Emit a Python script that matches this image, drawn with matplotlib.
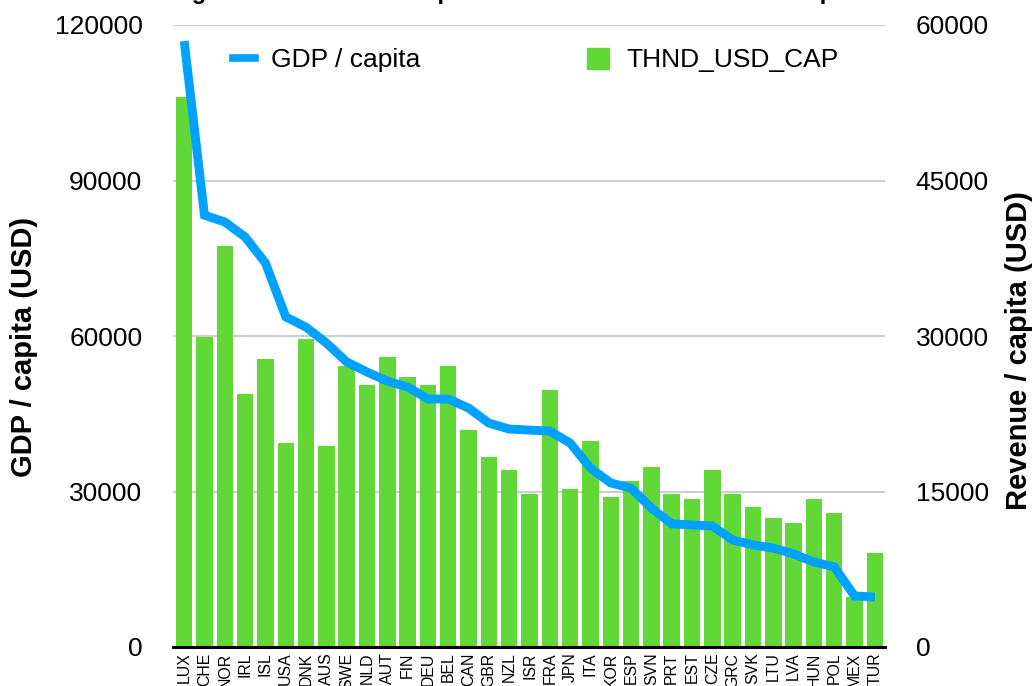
import matplotlib
matplotlib.use("Agg")
import matplotlib.pyplot as plt
from matplotlib.lines import Line2D
from matplotlib.patches import Patch
import numpy as np

plt.rcParams["font.family"] = ["Liberation Sans", "DejaVu Sans"]

countries = ["LUX", "CHE", "NOR", "IRL", "ISL", "USA", "DNK", "AUS", "SWE", "NLD",
             "AUT", "FIN", "DEU", "BEL", "CAN", "GBR", "NZL", "ISR", "FRA", "JPN",
             "ITA", "KOR", "ESP", "SVN", "PRT", "EST", "CZE", "GRC", "SVK", "LTU",
             "LVA", "HUN", "POL", "MEX", "TUR"]
gdp_per_capita = [116900, 83300, 82000, 79100, 74100, 63700, 61700, 58650, 55000, 53050,
                  51300, 50150, 47850, 47850, 46100, 43200, 42050, 41850, 41650, 39350,
                  34500, 31650, 30650, 26800, 23750, 23550, 23350, 20650, 19700, 19100,
                  17950, 16400, 15450, 9850, 9650]
revenue_per_capita = [53050, 29900, 38700, 24400, 27800, 19700, 29700, 19400, 27100, 25250,
                      27950, 26050, 25250, 27100, 20950, 18350, 17050, 14750, 24800, 15250,
                      19850, 14450, 16000, 17350, 14750, 14300, 17050, 14750, 13500, 12450,
                      11950, 14300, 12950, 4800, 9050]

line_color = "#00A2FF"
bar_color = "#61D836"

fig = plt.figure(figsize=(10.36, 6.86), dpi=100)
ax = fig.add_axes([173 / 1036, 39 / 686, 712 / 1036, 622 / 686])
ax2 = ax.twinx()

x = np.arange(len(countries))

# bars on the right axis, gridlines follow its ticks (same positions as the left ones)
ax2.bar(x, revenue_per_capita, width=0.81, color=bar_color, zorder=2)
ax2.set_ylim(0, 60000)
ax2.set_yticks([0, 15000, 30000, 45000, 60000])
ax2.grid(axis="y", color="#c3c3c3", linewidth=1.2, zorder=0)
ax2.set_axisbelow(True)

# GDP line on the left axis, drawn on top
ax.set_zorder(ax2.get_zorder() + 1)
ax.patch.set_visible(False)
ax.plot(x, gdp_per_capita, color=line_color, linewidth=6.4, solid_joinstyle="miter",
        solid_capstyle="butt")
ax.set_ylim(0, 120000)
ax.set_yticks([0, 30000, 60000, 90000, 120000])
ax.set_xlim(-0.55, len(countries) - 0.5)
ax.set_xticks(x)
ax.set_xticklabels(countries, rotation=90, fontsize=11.4)

for a in (ax, ax2):
    for side in ("top", "left", "right", "bottom"):
        a.spines[side].set_visible(False)
    a.tick_params(length=0)
ax.spines["bottom"].set_visible(True)
ax.spines["bottom"].set_linewidth(2.2)
ax.spines["bottom"].set_color("black")

ax.tick_params(axis="y", labelsize=19, pad=22)
ax2.tick_params(axis="y", labelsize=19, pad=22)
ax.tick_params(axis="x", pad=4)

ax.set_ylabel("GDP / capita (USD)", fontsize=21, fontweight="bold")
ax.yaxis.set_label_coords(-0.19, 0.482)
ax2.set_ylabel("Revenue / capita (USD)", fontsize=21, fontweight="bold")
ax2.yaxis.set_label_coords(1.1685, 0.477)

fig.legend(handles=[Line2D([0], [0], color=line_color, linewidth=5.5)],
           labels=["GDP / capita"], loc="center left", frameon=False, fontsize=19,
           bbox_to_anchor=(209 / 1036, 1 - 60 / 686), handlelength=0.85, handletextpad=0.6)
fig.legend(handles=[Patch(color=bar_color)], labels=["THND_USD_CAP"], loc="center left",
           frameon=False, fontsize=19, bbox_to_anchor=(563 / 1036, 1 - 60 / 686),
           handlelength=0.85, handleheight=0.85, handletextpad=0.65)

# title sits above the canvas, only the descenders show
fig.text(127 / 1036, 1 + 1.5 / 686,
         "Average Total Tax Revenue per Head and the National Wealth per Head",
         fontsize=17, fontweight="bold", va="baseline", ha="left")

fig.savefig("out.png", dpi=100)
